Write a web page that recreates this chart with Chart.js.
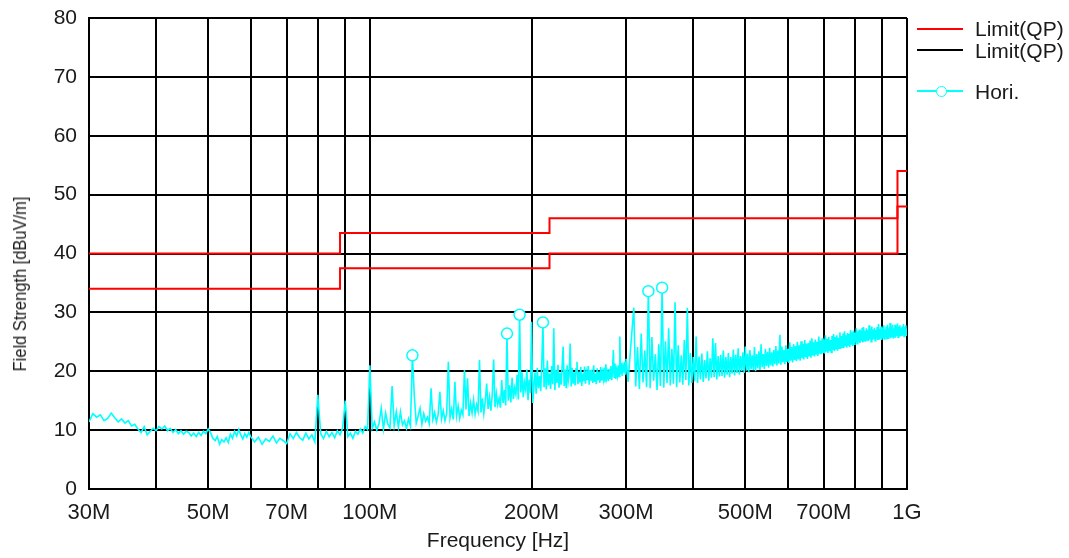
<!DOCTYPE html>
<html><head><meta charset="utf-8">
<script src="https://cdn.jsdelivr.net/npm/chart.js@4.4.1/dist/chart.umd.min.js"></script>
<style>
html,body{margin:0;padding:0;background:#fff;}
#wrap{position:relative;width:1069px;height:558px;overflow:hidden;background:#fff;}
canvas{position:absolute;left:0;top:0;}
.lg{position:absolute;font-family:"Liberation Sans",Arial,sans-serif;font-size:21px;color:#1a1a1a;line-height:21px;white-space:nowrap;}
.ln{position:absolute;height:2px;width:46px;left:917px;}
#ytitle{position:absolute;font-family:"Liberation Sans",Arial,sans-serif;font-size:18px;line-height:20px;color:#1a1a1a;white-space:nowrap;left:20px;top:284px;transform:translate(-50%,-50%) rotate(-90deg) scale(0.915,1);}
#mk{position:absolute;left:935.5px;top:85.5px;width:9px;height:9px;border:1.5px solid #00ffff;border-radius:50%;background:#fff;}
</style></head>
<body>
<div id="wrap">
<canvas id="c" width="1069" height="558"></canvas>
<div class="ln" style="top:28px;background:#ff0000"></div>
<div class="ln" style="top:49px;background:#000"></div>
<div class="ln" style="top:90px;background:#00ffff"></div>
<div id="mk"></div>
<div class="lg" style="left:975px;top:18px">Limit(QP)</div>
<div class="lg" style="left:975px;top:40px">Limit(QP)</div>
<div class="lg" style="left:975px;top:81px">Hori.</div>
<div id="ytitle">Field Strength [dBuV/m]</div>
</div>
<script>
// ---- axis definitions ----
const gridFreqs = [30,40,50,60,70,80,90,100,200,300,400,500,600,700,800,900,1000];
const labeledFreqs = [30,50,70,100,200,300,500,700,1000];
const labelTexts = ['30M','50M','70M','100M','200M','300M','500M','700M','1G'];

// ---- limit lines (MHz, dBuV/m) ----
const limitFreqs = [30,88,216,960,1000];
const limitQP = [40,43.5,46,54,54];
const limitQP2 = [34,37.5,40,48,48];

// ---- Hori. trace (MHz, dBuV/m) ----
const freqSeg1 = [30,30.5,31,31.5,32,32.5,33,33.5,34,34.5,
 35,35.5,36,36.5,37,37.5,38,38.5,39,39.5,
 40,40.5,41,41.5,42,42.5,43,43.5,44,44.5,
 45,45.5,46,46.5,47,47.5,48,48.5,49,49.5,
 50,50.5,51,51.5,52,52.5,53,53.5,54,54.5,
 55,55.5,56,56.5,57,57.5,58,58.5,59,59.5,60];
const levelSeg1 = [11.4,12.8,12.2,12.6,11.6,12.0,12.9,12.1,11.4,11.9,
 11.2,11.6,10.7,11.0,10.2,9.6,10.6,9.2,9.8,10.3,
 9.9,10.6,10.2,10.7,9.9,10.3,9.6,10.1,9.4,9.9,
 9.3,9.8,9.6,9.0,9.5,8.9,9.6,9.1,9.8,9.4,
 10.2,9.6,8.6,8.2,8.9,7.6,8.4,8.0,8.7,7.9,
 9.3,8.6,9.8,9.0,10.1,9.2,8.5,9.4,8.8,9.6,8.9];

const freqSeg2 = [61,62,63,64,65,66,67,68,69,70,
 71,72,73,74,75,76,77,78,79,80,
 81,82,83,84,85,86,87,88,89,90,
 91,92,93,94,95,96,97,98,99,100];
const levelSeg2 = [8.0,8.8,7.6,8.5,8.1,9.0,7.8,8.6,8.2,7.7,
 9.4,8.6,9.6,8.7,8.3,9.5,8.5,9.2,8.0,16.0,
 9.4,8.6,9.8,8.9,9.6,8.7,9.9,9.2,10.4,15.0,
 8.9,9.5,8.6,9.8,9.3,10.2,9.5,10.6,10.1,21.0];

// 101 .. 300 MHz, sweep step 1 MHz
const seg3Start = 101, seg3Step = 1;
const levelSeg3 = [10.3,11.4,10.0,11.1,13.7,10.2,12.9,11.0,10.4,17.5,
 10.8,13.1,10.5,13.1,10.9,11.6,10.3,11.9,10.7,22.7,
 15.7,11.2,12.4,13.7,11.0,12.8,11.5,12.2,11.1,17.1,
 11.8,13.0,11.4,12.6,16.5,11.9,13.3,11.6,12.8,21.6,
 12.1,13.6,11.8,18.2,12.4,14.1,12.0,13.4,12.6,20.2,
 13.5,18.8,12.4,14.6,12.9,15.1,12.7,14.3,13.2,21.9,
 13.0,15.4,12.8,14.9,17.9,13.6,15.6,13.3,16.0,22.0,
 13.9,16.2,14.3,15.4,13.8,18.5,14.6,16.8,14.2,26.4,
 15.0,17.6,14.7,18.9,15.3,17.2,16.1,19.4,15.2,29.6,
 16.4,19.8,15.6,18.1,16.9,20.3,15.1,18.6,16.3,28.4,
 14.6,17.4,19.8,16.2,20.6,17.1,19.2,16.6,21.4,28.3,
 17.3,20.5,16.9,21.8,17.6,19.6,17.0,20.9,17.8,27.3,
 16.8,20.2,18.0,21.1,17.2,19.7,17.7,20.8,24.2,17.5,
 20.3,17.1,21.0,18.2,19.4,24.7,17.4,20.6,17.9,19.8,
 17.6,20.4,21.6,17.8,19.9,18.1,20.7,17.5,19.6,18.3,
 20.8,17.9,19.7,18.5,20.9,17.7,20.2,18.4,19.5,18.0,
 21.0,18.2,19.6,17.8,20.5,18.6,19.9,18.0,20.7,18.4,
 19.8,18.7,20.6,18.1,21.2,18.9,19.7,18.3,20.4,18.8,
 20.9,18.5,20.1,23.6,19.0,21.3,18.7,20.2,19.3,21.0,
 19.1,25.9,19.5,21.4,19.2,20.7,19.8,21.6,19.4,22.1];

// 302.5 .. 1000 MHz, sweep step 2.5 MHz
const seg4Start = 302.5, seg4Step = 2.5;
const levelSeg4 = [18.2,22.6,26.7,30.8,17.4,24.1,17.0,26.4,18.1,23.5,
 17.3,33.6,17.1,25.8,18.4,22.9,16.8,24.6,17.5,34.2,
 17.2,25.1,18.0,27.3,17.6,23.8,17.9,31.7,17.3,24.4,
 18.1,22.7,17.7,25.3,18.5,30.8,17.6,23.1,18.0,22.4,
 18.3,25.9,18.0,22.5,18.6,23.0,18.2,21.9,18.8,23.4,
 18.4,22.2,18.9,25.6,19.0,24.8,18.6,22.6,19.1,22.8,
 19.2,23.5,18.9,22.4,19.4,23.1,19.0,22.4,19.6,23.7,
 19.3,22.8,19.7,23.9,19.4,22.6,20.0,23.2,19.7,24.2,
 20.1,23.0,19.8,23.6,20.3,22.7,20.2,24.1,20.0,22.9,
 20.5,23.4,20.2,24.6,20.7,22.9,20.4,23.8,20.9,23.3,
 20.6,24.0,21.0,23.2,20.8,23.6,21.2,24.3,21.0,23.5,
 21.3,26.2,21.1,24.2,21.5,23.6,21.2,24.4,21.6,23.8,
 21.4,24.9,21.8,24.1,21.5,24.6,21.9,24.3,21.7,25.0,
 22.0,24.4,21.8,25.1,22.2,24.6,22.0,25.3,22.4,24.7,
 22.1,24.8,22.5,25.2,22.3,25.6,22.7,24.9,22.5,25.4,
 22.8,25.0,22.6,25.9,23.0,25.2,22.9,25.6,23.1,25.4,
 23.0,26.1,23.3,25.5,23.1,25.8,23.4,25.3,23.2,26.0,
 23.6,26.3,23.4,25.8,23.7,26.1,23.5,25.7,23.9,26.6,
 23.8,26.0,24.1,26.4,23.9,26.8,24.2,26.1,24.0,26.5,
 24.3,26.3,24.1,27.0,24.5,26.6,24.3,26.9,24.6,26.6,
 24.9,27.3,24.7,26.8,25.0,27.1,24.8,26.9,25.1,27.4,
 24.9,27.5,25.2,26.9,25.0,27.3,25.3,27.0,25.1,27.8,
 25.4,27.2,25.0,27.6,25.3,27.1,25.5,27.4,25.2,27.0,
 25.6,27.5,25.3,28.0,25.5,27.2,25.7,27.6,25.3,27.4,
 25.7,27.8,25.5,27.1,25.8,27.6,25.4,27.9,25.6,27.3,
 25.9,28.2,25.6,27.5,25.8,27.9,25.7,27.3,25.9,27.9,
 25.7,27.3,26.0,28.1,25.8,27.6,26.1,27.8,25.9,27.4,
 26.0,27.6,26.1,28.0,25.9,27.5,26.2,27.8,26.0,27.2];

// ---- peak markers ----
const peakFreqs = [120,180,190,210,330,350];
const peakLevels = [22.7,26.4,29.6,28.3,33.6,34.2];

// ---- build datasets ----
const pts = (f, v) => f.map((x, i) => ({x: x, y: v[i]}));
const gridPts = (start, step, v) => v.map((y, i) => ({x: start + i * step, y: y}));
const tracePts = [].concat(pts(freqSeg1, levelSeg1), pts(freqSeg2, levelSeg2),
  gridPts(seg3Start, seg3Step, levelSeg3), gridPts(seg4Start, seg4Step, levelSeg4));

const txt = '#1a1a1a';
const fam = '"Liberation Sans", Arial, sans-serif';

new Chart(document.getElementById('c'), {
  type: 'line',
  data: {
    datasets: [
      {label:'peaks', data: pts(peakFreqs, peakLevels), showLine:false, pointRadius:5.5, pointStyle:'circle',
       pointBorderColor:'#00ffff', pointBackgroundColor:'#ffffff', pointBorderWidth:1.5, order:0},
      {label:'Hori.', data: tracePts, borderColor:'#00ffff', borderWidth:1.6, pointRadius:0, tension:0, order:1},
      {label:'Limit(QP)', data: pts(limitFreqs, limitQP), borderColor:'#ff0000', borderWidth:2, pointRadius:0, stepped:'before', order:2},
      {label:'Limit(QP) 2', data: pts(limitFreqs, limitQP2), borderColor:'#ff0000', borderWidth:2, pointRadius:0, stepped:'before', order:3}
    ]
  },
  options: {
    responsive:false, animation:false, events:[],
    layout:{padding:{left:0, right:162, top:18, bottom:0}},
    plugins:{legend:{display:false}, tooltip:{enabled:false}},
    scales:{
      x:{
        type:'logarithmic', min:30, max:1000,
        afterBuildTicks:(s)=>{ s.ticks = gridFreqs.map(v=>({value:v})); },
        afterFit:(s)=>{ s.height = 69; },
        ticks:{autoSkip:false, maxRotation:0, minRotation:0, padding:11, color:txt,
          font:{family:fam, size:22},
          callback:(v)=>{ const i = labeledFreqs.indexOf(Number(v)); return i>=0 ? labelTexts[i] : ''; }},
        grid:{color:'#000', lineWidth:2, drawTicks:false},
        border:{color:'#000', width:2},
        title:{display:true, text:'Frequency [Hz]', color:txt, font:{family:fam, size:21}, padding:{top:0, bottom:4}}
      },
      y:{
        min:0, max:80,
        afterFit:(s)=>{ s.width = 89; s.paddingTop = 0; s.paddingBottom = 0; },
        ticks:{stepSize:10, padding:12, color:txt, font:{family:fam, size:21}},
        grid:{color:'#000', lineWidth:2, drawTicks:false},
        border:{color:'#000', width:2}
      }
    }
  }
});
</script>
</body></html>
